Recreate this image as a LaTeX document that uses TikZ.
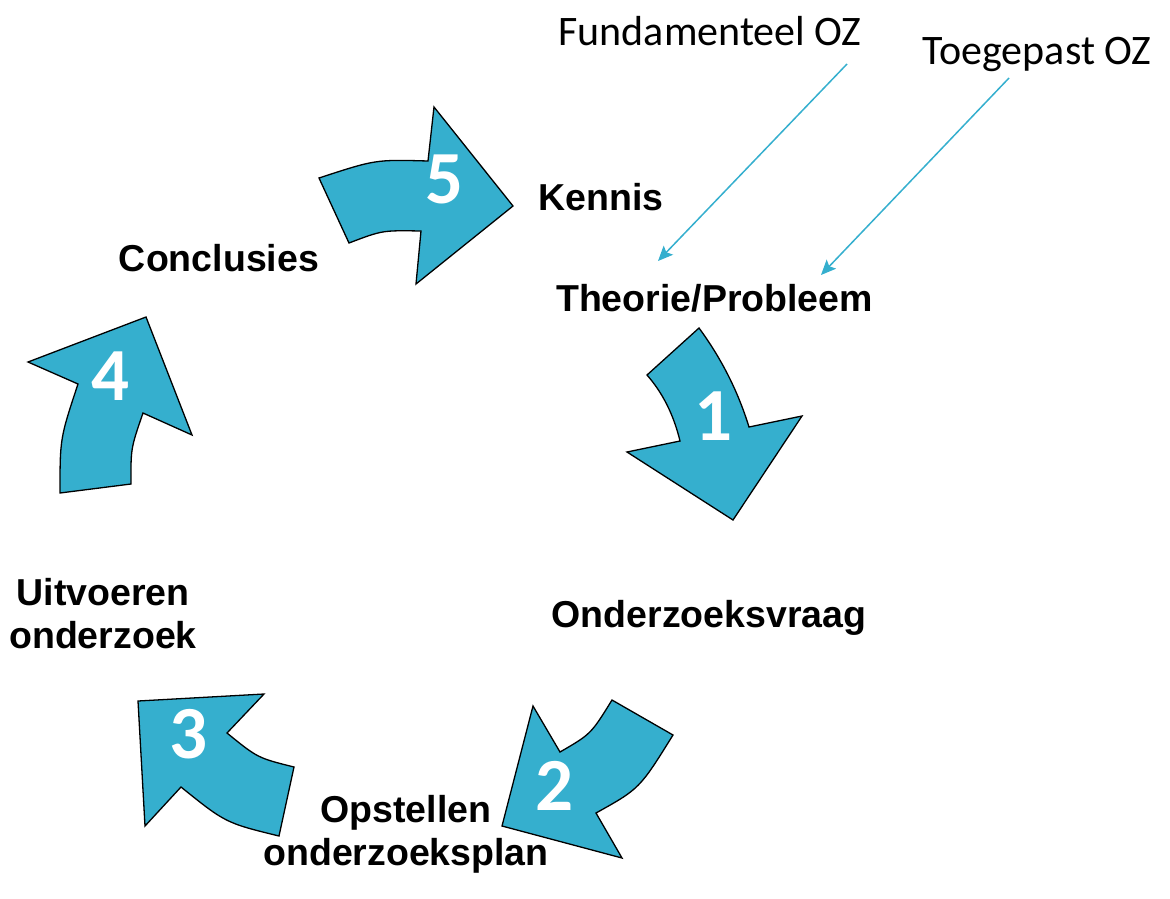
\documentclass[tikz,border=0pt]{standalone}
\usepackage{fontspec}
\setmainfont{Liberation Sans}
\newfontfamily\calfont{Carlito}
\usetikzlibrary{arrows.meta}
\definecolor{cycblue}{RGB}{53,175,206}
\tikzset{
  bigarrow/.style={fill=cycblue, draw=black, line width=1.3pt, line join=miter},
  steplabel/.style={anchor=base, inner sep=0pt, font=\bfseries\fontsize{37.5}{43}\selectfont},
  toplabel/.style={anchor=base, inner sep=0pt, font=\calfont\fontsize{42}{46}\selectfont},
  numlabel/.style={anchor=base, inner sep=0pt, text=white, font=\calfont\bfseries\fontsize{75}{80}\selectfont},
  thinarrow/.style={draw=cycblue, line width=1.5pt, -{Stealth[length=15pt,width=13pt,inset=3pt]}}
}
\begin{document}
\begin{tikzpicture}[x=1pt,y=-1pt]
\useasboundingbox (0,0) rectangle (1170,898);

% arrow 5
\draw[bigarrow] (319,178) .. controls (375.5,159.5) .. (428,161) -- (434,107) -- (513,206) -- (416,284) -- (421,231) .. controls (382.3,230.3) .. (349,243) -- cycle;
% arrow 1
\draw[bigarrow] (647,375) -- (699,328) .. controls (721.3,358.3) and (738,391.3) .. (749,427) -- (802,416) -- (733,520) -- (627,452) -- (680,441) .. controls (673.7,414.9) and (662.7,392.9) .. (647,375) -- cycle;
% arrow 2
\draw[bigarrow] (612,700) -- (673,735) .. controls (639.6,788.7) .. (596,813) -- (622,858) -- (502,826) -- (533,706) -- (560,752) .. controls (591,734) .. (612,700) -- cycle;
% arrow 3
\draw[bigarrow] (138,701) -- (264,694) -- (227,733) .. controls (257.6,757.9) .. (294,767) -- (279,836) .. controls (225.6,822.9) .. (181,787) -- (145,826) -- cycle;
% arrow 4
\draw[bigarrow] (60,493) .. controls (60,438.3) .. (78,384) -- (28,362) -- (146,317) -- (192,435) -- (143,413) .. controls (130.8,448.3) .. (131,484) -- cycle;

% numbers
\node[numlabel] (n5) at (445,203) {5};
\node[numlabel] (n1) at (713,440) {1};
\node[numlabel] (n2) at (555,810) {2};
\node[numlabel] (n3) at (189,758) {3};
\node[numlabel] (n4) at (111,400) {4};

% step labels
\node[steplabel] (kennis) at (601,210) {Kennis};
\node[steplabel] (theorie) at (714.5,311.7) {Theorie/Probleem};
\node[steplabel] (vraag) at (709,627.5) {Onderzoeksvraag};
\node[steplabel] (plan) at (406,822.7) {\begin{tabular}[t]{@{}c@{}}Opstellen\\onderzoeksplan\end{tabular}};
\node[steplabel] (uitvoeren) at (103,605) {\begin{tabular}[t]{@{}c@{}}Uitvoeren\\onderzoek\end{tabular}};
\node[steplabel] (concl) at (219,271.5) {Conclusies};

% top labels
\node[toplabel] (fund) at (710,45) {Fundamenteel OZ};
\node[toplabel] (toeg) at (1037,64) {Toegepast OZ};

% thin arrows
\coordinate (fs) at (847,64);
\coordinate (fe) at (658,261);
\coordinate (ts) at (1009,78);
\coordinate (te) at (821,275);
\draw[thinarrow] (fs) -- (fe);
\draw[thinarrow] (ts) -- (te);
\end{tikzpicture}
\end{document}
